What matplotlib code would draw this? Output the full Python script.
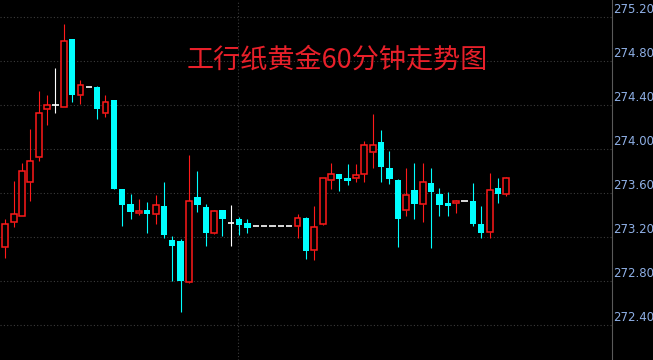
import numpy as np
import matplotlib
matplotlib.use('Agg')
import matplotlib.pyplot as plt

# hourly candles, index -1 is the one cut off at the left edge
opens = [273.18, 273.11, 273.34, 273.39, 273.70, 273.93, 274.36, 274.40, 274.38, 275.00,
         274.49, 274.56, 274.56, 274.33, 274.45, 273.64, 273.50, 273.42, 273.45, 273.41,
         273.48, 273.17, 273.16, 272.79, 273.56, 273.47, 273.24, 273.45, 273.33, 273.36,
         273.33, 273.30, 273.30, 273.30, 273.30, 273.30, 273.30, 273.37, 273.08, 273.32,
         273.72, 273.77, 273.74, 273.74, 273.77, 273.97, 274.06, 273.83, 273.72, 273.45,
         273.63, 273.50, 273.69, 273.59, 273.51, 273.51, 273.53, 273.53, 273.32, 273.25,
         273.65, 273.59]
highs = [273.25, 273.36, 273.71, 273.87, 274.18, 274.53, 274.49, 274.74, 275.14, 275.00,
         274.63, 274.56, 274.57, 274.49, 274.45, 273.64, 273.59, 273.55, 273.52, 273.58,
         273.70, 273.21, 273.18, 273.95, 273.80, 273.50, 273.45, 273.45, 273.49, 273.38,
         273.36, 273.30, 273.30, 273.30, 273.30, 273.30, 273.41, 273.38, 273.48, 273.74,
         273.87, 273.77, 273.86, 273.86, 274.07, 274.32, 274.17, 273.98, 273.73, 273.83,
         273.87, 273.87, 273.83, 273.65, 273.61, 273.54, 273.53, 273.69, 273.48, 273.78,
         273.74, 273.75]
lows = [273.00, 273.01, 273.29, 273.39, 273.53, 273.89, 274.22, 274.33, 274.38, 274.43,
        274.41, 274.56, 274.27, 274.29, 273.64, 273.30, 273.36, 273.40, 273.24, 273.32,
        273.19, 272.80, 272.52, 272.78, 273.43, 273.12, 273.23, 273.21, 273.12, 273.22,
        273.24, 273.30, 273.30, 273.30, 273.30, 273.30, 273.19, 273.00, 272.99, 273.31,
        273.64, 273.62, 273.67, 273.70, 273.70, 273.83, 273.70, 273.68, 273.11, 273.39,
        273.36, 273.34, 273.10, 273.39, 273.39, 273.42, 273.53, 273.30, 273.19, 273.19,
        273.51, 273.57]
closes = [273.10, 273.32, 273.41, 273.80, 273.89, 274.33, 274.40, 274.40, 274.98, 274.49,
          274.58, 274.56, 274.36, 274.43, 273.64, 273.49, 273.43, 273.44, 273.41, 273.49,
          273.22, 273.12, 272.80, 273.53, 273.49, 273.24, 273.44, 273.36, 273.33, 273.31,
          273.28, 273.30, 273.30, 273.30, 273.30, 273.30, 273.37, 273.07, 273.29, 273.74,
          273.77, 273.73, 273.71, 273.76, 274.04, 274.04, 273.84, 273.73, 273.36, 273.58,
          273.50, 273.70, 273.61, 273.49, 273.48, 273.53, 273.53, 273.32, 273.24, 273.63,
          273.59, 273.74]
yticks = [272.40, 272.80, 273.20, 273.60, 274.00, 274.40, 274.80, 275.20]
title = '工行纸黄金60分钟走势图'

RED = '#ff1a1a'
CYAN = '#00ffff'
W = 0.76

o = np.array(opens); h = np.array(highs); l = np.array(lows); c = np.array(closes)
x = np.arange(len(o)) - 1

fig = plt.figure(figsize=(6.53, 3.6), dpi=100, facecolor='black')
ax = fig.add_axes([0, 0, 612 / 653, 1])
ax.set_facecolor('black')
ax.set_xlim(-0.635, 72.66)
ax.set_ylim(272.082, 275.355)

# grid
for t in yticks:
    ax.axhline(t, color='#3c3c3c', lw=0.8, ls=(0, (1, 2)), zorder=0)
ax.axvline(27.9, color='#3c3c3c', lw=0.8, ls=(0, (1, 2)), zorder=0)

up = c > o
dn = c < o
eq = c == o
top = np.maximum(o, c)
bot = np.minimum(o, c)

# down candles: filled cyan
ax.vlines(x[dn], l[dn], h[dn], color=CYAN, lw=0.8, zorder=2)
ax.bar(x[dn], top[dn] - bot[dn], W, bot[dn], color=CYAN, lw=0, zorder=3)

# up candles: hollow red
ax.vlines(x[up], top[up], h[up], color=RED, lw=0.8, zorder=2)
ax.vlines(x[up], l[up], bot[up], color=RED, lw=0.8, zorder=2)
ax.bar(x[up], top[up] - bot[up], W * 0.92, bot[up], facecolor='black',
       edgecolor=RED, lw=1.1, zorder=3)

# doji: white cross
ax.vlines(x[eq], l[eq], h[eq], color='white', lw=0.8, zorder=2)
ax.hlines(c[eq], x[eq] - W / 2, x[eq] + W / 2, color='white', lw=1.2, zorder=3)

ax.set_xticks([])
ax.set_yticks([])
for s in ax.spines.values():
    s.set_visible(False)
ax.spines['right'].set_visible(True)
ax.spines['right'].set_color('#5a5a5a')
ax.spines['right'].set_linewidth(0.8)

for t in yticks:
    ax.annotate('%.2f' % t, xy=(1, t), xycoords=('axes fraction', 'data'),
                xytext=(1, 0.5), textcoords='offset points', ha='left', va='bottom',
                color='#8fb0e6', fontsize=8.5, family='DejaVu Sans')

fig.text(337 / 653, 1 - 60 / 360, title, color='#e8202a', fontsize=19.5,
         ha='center', va='center', family=['Noto Sans CJK SC', 'DejaVu Sans'])

fig.savefig('out.png', dpi=100, facecolor='black')
